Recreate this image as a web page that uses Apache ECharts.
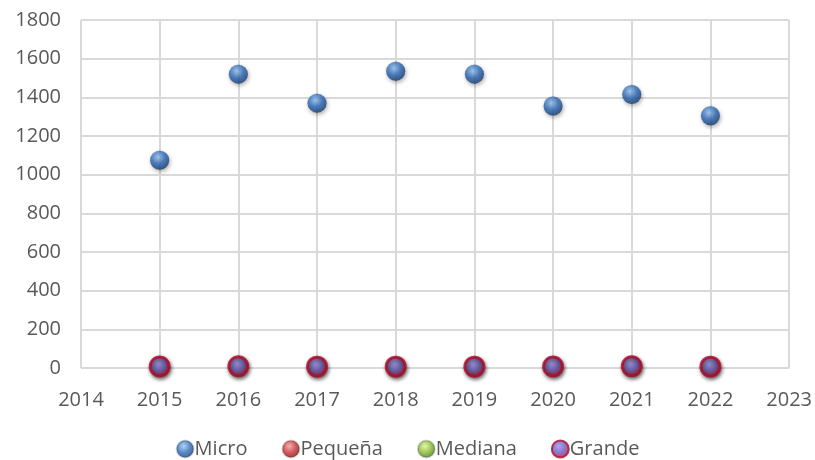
<!DOCTYPE html>
<html>
<head>
<meta charset="utf-8">
<script src="https://cdn.jsdelivr.net/npm/echarts@6/dist/echarts.min.js"></script>
<style>
  html, body { margin: 0; padding: 0; background: #fff; }
  #chart { width: 815px; height: 460px; }
</style>
</head>
<body>
<div id="chart"></div>
<script>
// years on the x axis
const years = [2015, 2016, 2017, 2018, 2019, 2020, 2021, 2022];
// company counts by size
const micro = [1075, 1520, 1370, 1535, 1520, 1355, 1415, 1305];
const pequena = [12, 12, 10, 10, 10, 12, 13, 10];
const mediana = [3, 3, 3, 3, 3, 3, 3, 3];
const grande = [8, 9, 7, 7, 7, 8, 9, 7];
const seriesNames = ['Micro', 'Pequeña', 'Mediana', 'Grande'];

const sphere = (light, mid, dark) => ({
  type: 'radial', x: 0.42, y: 0.35, r: 0.68,
  colorStops: [
    { offset: 0, color: light },
    { offset: 0.5, color: mid },
    { offset: 1, color: dark }
  ]
});

const colors = [
  sphere('#9cc8f2', '#2f6cbc', '#153a6a'),
  sphere('#f29a9a', '#c83232', '#6e1010'),
  sphere('#dcf294', '#86b832', '#466a10'),
  sphere('#9a90ee', '#6c58c0', '#b0102e')
];

const makeSeries = (name, vals, i) => ({
  name,
  type: 'scatter',
  data: years.map((y, k) => [y, vals[k]]),
  symbol: 'circle',
  symbolSize: 19,
  itemStyle: {
    color: colors[i],
    borderColor: i === 3 ? '#b00c2a' : 'rgba(0,0,0,0.2)',
    borderWidth: i === 3 ? 3 : 0.5,
    shadowColor: 'rgba(0,0,0,0.4)',
    shadowBlur: 4,
    shadowOffsetX: 1,
    shadowOffsetY: 2
  },
  z: 2 + i
});

const chart = echarts.init(document.getElementById('chart'));
chart.setOption({
  animation: false,
  textStyle: { fontFamily: 'Open Sans' },
  grid: { left: 81, right: 25, top: 20, bottom: 92 },
  xAxis: {
    type: 'value',
    min: 2014,
    max: 2023,
    interval: 1,
    axisLine: { show: false },
    axisTick: { show: false },
    splitLine: { lineStyle: { color: '#d9d9d9', width: 2 } },
    axisLabel: { color: '#595959', fontSize: 20, margin: 22, formatter: v => String(v) }
  },
  yAxis: {
    type: 'value',
    min: 0,
    max: 1800,
    interval: 200,
    axisLine: { show: false },
    axisTick: { show: false },
    splitLine: { lineStyle: { color: '#d9d9d9', width: 2 } },
    axisLabel: { color: '#595959', fontSize: 20, margin: 20, formatter: v => String(v) }
  },
  legend: {
    bottom: -4,
    left: 'center',
    itemWidth: 17,
    itemHeight: 17,
    itemGap: 34,
    icon: 'circle',
    textStyle: { color: '#595959', fontSize: 20, padding: [0, 0, 0, -4] },
    data: seriesNames.map((n, i) => ({ name: n, itemStyle: { color: colors[i] } }))
  },
  series: [
    makeSeries('Micro', micro, 0),
    makeSeries('Pequeña', pequena, 1),
    makeSeries('Mediana', mediana, 2),
    makeSeries('Grande', grande, 3)
  ]
});
</script>
</body>
</html>
